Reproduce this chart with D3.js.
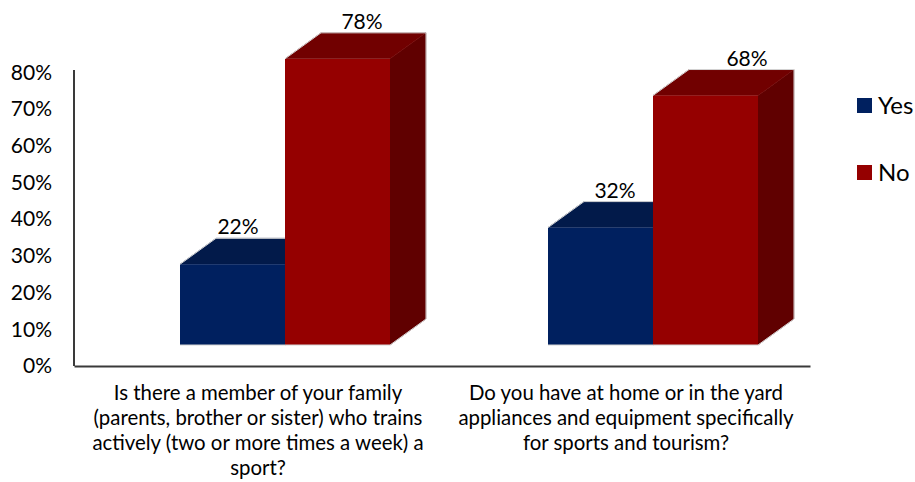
<!DOCTYPE html>
<html>
<head>
<meta charset="utf-8">
<script src="https://cdn.jsdelivr.net/npm/d3@7"></script>
<style>
  body { margin: 0; background: #fff; }
  svg { display: block; }
  text { font-family: Lato, "Open Sans", "Liberation Sans", sans-serif; fill: #000; }
</style>
</head>
<body>
<svg id="chart" width="915" height="482"></svg>
<script>
// Survey questions (one wrapped label per category)
const categories = [
  ["Is there a member of your family",
   "(parents, brother or sister) who trains",
   "actively (two or more times a week) a",
   "sport?"],
  ["Do you have at home or in the yard",
   "appliances and equipment specifically",
   "for sports and tourism?"]
];
const seriesNames = ["Yes", "No"];
const yesValues = [0.22, 0.32];
const noValues = [0.78, 0.68];
const yTickValues = [0, 0.1, 0.2, 0.3, 0.4, 0.5, 0.6, 0.7, 0.8];

const seriesValues = [yesValues, noValues];
const palette = {
  Yes: { front: "#00205f", top: "#021a4a", side: "#011640" },
  No:  { front: "#950000", top: "#710000", side: "#600000" }
};

const svg = d3.select("#chart");
const fs = 21;
const fontStack = 'Lato, "Open Sans", "Liberation Sans", sans-serif';

// plot frame
const plotLeft = 74, plotRight = 810, plotBottom = 366, plotTop = 72.5;
const x0 = d3.scaleBand().domain(d3.range(categories.length)).range([plotLeft, plotRight]);
const x1 = d3.scaleBand().domain(seriesNames).range([106, 316]);
const y = d3.scaleLinear().domain([0, 0.8]).range([plotBottom, plotTop]);

// 3D extrusion of the columns
const depthX = 36, depthY = 26;
const lift = 21;              // front faces sit forward of the back wall
const baseY = y(0) - lift;

// y axis
const yAxis = d3.axisLeft(y)
  .tickValues(yTickValues)
  .tickFormat(d3.format(".0%"))
  .tickSize(0)
  .tickPadding(22);
const gy = svg.append("g").attr("transform", `translate(${plotLeft},0)`).call(yAxis);
gy.select(".domain").attr("stroke", "#3a3a3a").attr("stroke-width", 2)
  .attr("d", `M0,${plotTop - 2.5}V${plotBottom}`);
gy.selectAll(".tick text")
  .style("font-size", fs + "px")
  .style("font-family", fontStack)
  .attr("fill", "#000");

// x axis
const xAxis = d3.axisBottom(x0).tickSize(0).tickFormat("");
const gx = svg.append("g").attr("transform", `translate(0,${plotBottom})`).call(xAxis);
gx.select(".domain").attr("stroke", "#3a3a3a").attr("stroke-width", 2);

// category labels
categories.forEach((lines, gi) => {
  const cx = x0(gi) + x0.bandwidth() / 2;
  const t = svg.append("text")
    .attr("text-anchor", "middle")
    .style("font-size", "20.4px");
  lines.forEach((ln, li) => {
    t.append("tspan").attr("x", cx).attr("y", 400 + li * 25).text(ln);
  });
});

// columns
const bars = svg.append("g");
categories.forEach((_, gi) => {
  seriesNames.forEach((s, si) => {
    const v = seriesValues[si][gi];
    const c = palette[s];
    const xl = x0(gi) + x1(s);
    const xr = xl + x1.bandwidth();
    const yt = baseY - (y(0) - y(v));
    const g = bars.append("g");
    // side face
    g.append("path")
      .attr("d", `M${xr},${yt}L${xr + depthX},${yt - depthY}L${xr + depthX},${baseY - depthY}L${xr},${baseY}Z`)
      .attr("fill", c.side).attr("stroke", c.side).attr("stroke-width", 0.5);
    // top face
    g.append("path")
      .attr("d", `M${xl},${yt}L${xl + depthX},${yt - depthY}L${xr + depthX},${yt - depthY}L${xr},${yt}Z`)
      .attr("fill", c.top).attr("stroke", c.top).attr("stroke-width", 0.5);
    // front face
    g.append("rect")
      .attr("x", xl).attr("y", yt)
      .attr("width", xr - xl).attr("height", baseY - yt)
      .attr("fill", c.front);
    // light rim along the silhouette
    g.append("path")
      .attr("d", `M${xl},${yt}L${xl + depthX},${yt - depthY}L${xr + depthX},${yt - depthY}L${xr + depthX},${baseY - depthY}L${xr},${baseY}L${xl},${baseY}`)
      .attr("fill", "none").attr("stroke", "#d4d4d4").attr("stroke-width", 1);
  });
});

// value labels; they drift right with the perspective of the view
const labelX = (si, gi) => 58 + 19 * si + 9 * gi + 8 * si * gi;
categories.forEach((_, gi) => {
  seriesNames.forEach((s, si) => {
    const v = seriesValues[si][gi];
    const xl = x0(gi) + x1(s);
    const yt = baseY - (y(0) - y(v));
    svg.append("text")
      .attr("x", xl + labelX(si, gi))
      .attr("y", yt - depthY - 4)
      .attr("text-anchor", "middle")
      .style("font-size", fs + "px")
      .text(d3.format(".0%")(v));
  });
});

// legend
const legend = svg.append("g");
seriesNames.forEach((s, i) => {
  const ly = 98 + i * 67;
  legend.append("rect")
    .attr("x", 857).attr("y", ly).attr("width", 15).attr("height", 15)
    .attr("fill", palette[s].front);
  legend.append("text")
    .attr("x", 878).attr("y", ly + 7.5)
    .attr("dy", "0.35em")
    .style("font-size", "24px")
    .text(s);
});
</script>
</body>
</html>
